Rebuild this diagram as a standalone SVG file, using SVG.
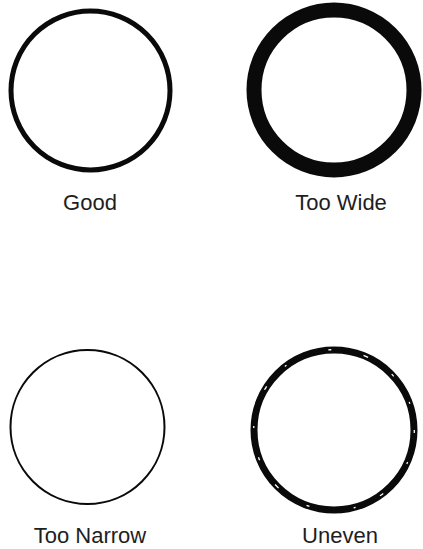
<svg xmlns="http://www.w3.org/2000/svg" width="423" height="549" viewBox="0 0 423 549">
<style>
.ring{fill:none;stroke:#0a0a0a}
.lbl{font-family:"Liberation Sans",Arial,sans-serif;font-size:22px;fill:#1e1e1e;text-anchor:middle}
.fleck{fill:none;stroke:#fff;stroke-width:1.3}
</style>
<rect width="423" height="549" fill="#fff"/>
<g id="good">
<circle class="ring" cx="90.5" cy="90.5" r="79.5" stroke-width="5"/>
<text class="lbl" x="90" y="210">Good</text>
</g>
<g id="too-wide">
<circle class="ring" cx="334" cy="90" r="80" stroke-width="15"/>
<text class="lbl" x="341" y="210">Too Wide</text>
</g>
<g id="too-narrow">
<circle class="ring" cx="87.5" cy="427" r="77" stroke-width="2"/>
<text class="lbl" x="90" y="543">Too Narrow</text>
</g>
<g id="uneven">
<circle class="ring" cx="334" cy="430" r="80" stroke-width="7"/>
<circle class="fleck" cx="334" cy="430" r="80.3" stroke-dasharray="3 30 2 38 4 27 2 45 3 33 5 29"/>
<text class="lbl" x="340" y="543">Uneven</text>
</g>
</svg>
